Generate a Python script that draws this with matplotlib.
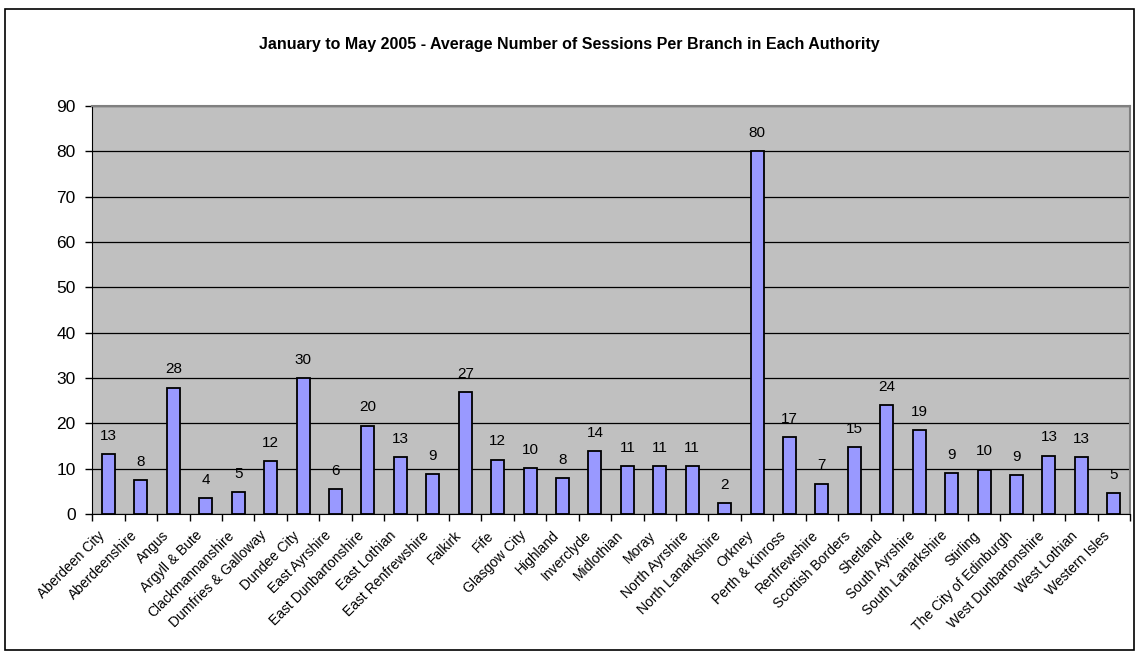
import numpy as np
import matplotlib.pyplot as plt
import matplotlib.transforms as mtransforms
from matplotlib.patches import Rectangle

plt.rcParams['font.family'] = ['Liberation Sans', 'DejaVu Sans']

authorities = ['Aberdeen City', 'Aberdeenshire', 'Angus', 'Argyll & Bute', 'Clackmannanshire',
               'Dumfries & Galloway', 'Dundee City', 'East Ayrshire', 'East Dunbartonshire',
               'East Lothian', 'East Renfrewshire', 'Falkirk', 'Fife', 'Glasgow City', 'Highland',
               'Inverclyde', 'Midlothian', 'Moray', 'North Ayrshire', 'North Lanarkshire', 'Orkney',
               'Perth & Kinross', 'Renfrewshire', 'Scottish Borders', 'Shetland', 'South Ayrshire',
               'South Lanarkshire', 'Stirling', 'The City of Edinburgh', 'West Dunbartonshire',
               'West Lothian', 'Western Isles']
sessions = [13.2, 7.5, 27.9, 3.6, 4.8, 11.7, 30.0, 5.5, 19.5, 12.5, 8.9, 26.9, 12.0, 10.2, 8.0,
            13.9, 10.5, 10.5, 10.5, 2.4, 80.0, 17.0, 6.7, 14.8, 24.1, 18.6, 9.1, 9.8, 8.6, 12.9,
            12.5, 4.6]
labels = [13, 8, 28, 4, 5, 12, 30, 6, 20, 13, 9, 27, 12, 10, 8, 14, 11, 11, 11, 2, 80, 17, 7,
          15, 24, 19, 9, 10, 9, 13, 13, 5]
yticks = [0, 10, 20, 30, 40, 50, 60, 70, 80, 90]

fig = plt.figure(figsize=(11.39, 6.54), dpi=100)
ax = fig.add_axes([0.081, 0.2141, 0.9111, 0.6238])
ax.set_facecolor('#C0C0C0')

x = np.arange(len(authorities))
ax.bar(x, sessions, width=0.4, color='#9999FF', edgecolor='black', linewidth=1.3, zorder=3)
for xi, v, lab in zip(x, sessions, labels):
    ax.annotate(str(lab), (xi, v), xytext=(0, 8), textcoords='offset points',
                ha='center', va='bottom', fontsize=11)

ax.set_xlim(-0.5, len(authorities) - 0.5)
ax.set_ylim(0, 90)
ax.set_yticks(yticks)
ax.tick_params(axis='y', labelsize=12.5, length=5, width=1, direction='out', pad=7)
ax.yaxis.grid(True, color='black', linewidth=0.9, zorder=1)
ax.set_axisbelow(True)

# tick marks between categories, labels at the category centres
ax.set_xticks(np.arange(-0.5, len(authorities)), minor=False)
ax.set_xticklabels([])
ax.set_xticks(x, minor=True)
ax.set_xticklabels(authorities, minor=True, rotation=45, ha='right', rotation_mode='anchor',
                   fontsize=10)
ax.tick_params(axis='x', which='major', length=5, width=1, direction='out')
ax.tick_params(axis='x', which='minor', length=0, pad=9)
shift = mtransforms.ScaledTranslation(-11 / 100, -2 / 100, fig.dpi_scale_trans)
for t in ax.xaxis.get_minorticklabels():
    t.set_transform(t.get_transform() + shift)

ax.spines['left'].set_color('black')
ax.spines['bottom'].set_color('black')
ax.spines['top'].set_color('#808080')
ax.spines['right'].set_color('#808080')
ax.spines['top'].set_linewidth(1.5)
ax.spines['right'].set_linewidth(1.5)

fig.text(0.5, 0.932, 'January to May 2005 - Average Number of Sessions Per Branch in Each Authority',
         ha='center', va='center', fontsize=11.5, fontweight='bold')

fig.patches.append(Rectangle((0.0048, 0.006), 0.9912, 0.981, transform=fig.transFigure,
                             fill=False, edgecolor='black', linewidth=1.2))

fig.savefig('out.png', dpi=100)
